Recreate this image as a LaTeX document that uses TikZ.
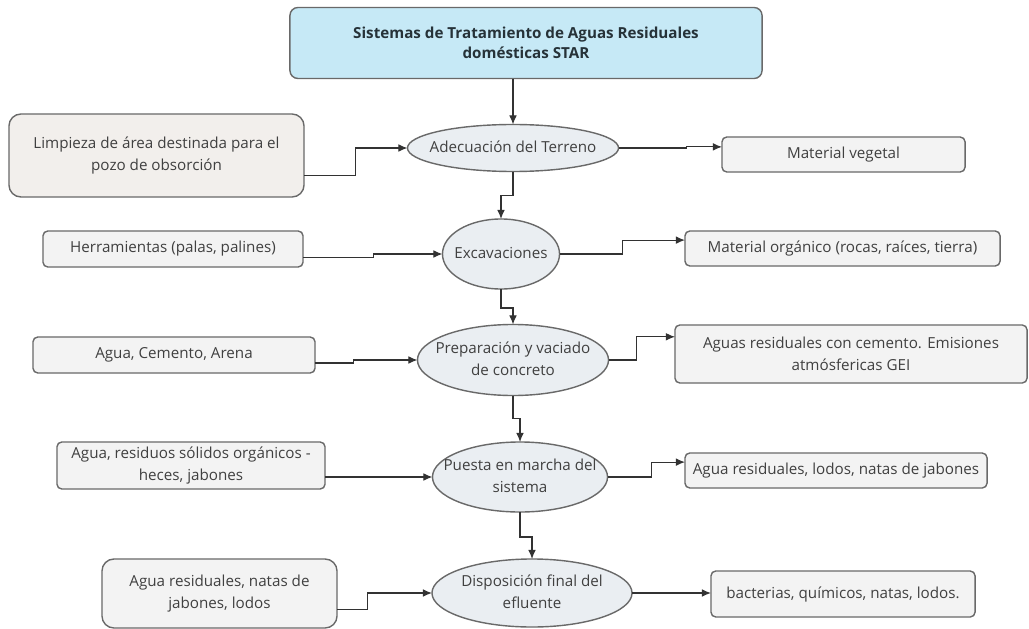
\documentclass[tikz,border=0pt]{standalone}
\usepackage{fontspec}
\setmainfont{Open Sans}
\usetikzlibrary{shapes.geometric,arrows.meta}
\definecolor{titlefill}{RGB}{198,233,246}
\definecolor{ovalfill}{RGB}{234,238,242}
\definecolor{boxfill}{RGB}{243,243,243}
\definecolor{warmfill}{RGB}{242,239,236}
\definecolor{edge}{RGB}{105,105,105}
\definecolor{ink}{RGB}{64,64,64}
\newcommand{\ovaltext}[1]{\makebox[0pt]{\begin{tabular}{@{}c@{}}#1\end{tabular}}}
\begin{document}
\begin{tikzpicture}[x=0.025cm,y=-0.025cm,
  font=\fontsize{10.8}{15.5}\selectfont, text=ink,
  every node/.style={inner sep=0pt,outer sep=0pt},
  titlebox/.style={draw=edge,line width=1pt,fill=titlefill,rounded corners=0.2cm,align=center,font=\fontsize{10.8}{14.5}\selectfont\bfseries,text={rgb,255:red,38;green,50;blue,56}},
  oval/.style={ellipse,draw=edge,line width=1pt,fill=ovalfill},
  inbox/.style={draw=edge,line width=1pt,fill=boxfill,rounded corners=0.12cm,align=center},
  outbox/.style={draw=edge,line width=1pt,fill=boxfill,rounded corners=0.12cm,align=center},
  arr/.style={-{Latex[length=6.5pt,width=5.5pt]},draw={rgb,255:red,50;green,50;blue,50},line width=0.75pt}]
  \useasboundingbox (0,0) rectangle (1029,629);
  % main column
  \node[titlebox,minimum width=11.8cm,minimum height=1.775cm] (title) at (526,43) {Sistemas de Tratamiento de Aguas Residuales\\dom\'esticas STAR};
  \node[oval,minimum width=5.275cm,minimum height=1.175cm] (adec) at (513,148) {\ovaltext{Adecuaci\'on del Terreno}};
  \node[oval,minimum width=2.925cm,minimum height=1.75cm] (exc) at (501,254) {\ovaltext{Excavaciones}};
  \node[oval,minimum width=4.775cm,minimum height=1.775cm] (prep) at (513,360) {\ovaltext{Preparaci\'on y vaciado\\de concreto}};
  \node[oval,minimum width=4.375cm,minimum height=1.75cm] (puesta) at (520,477) {\ovaltext{Puesta en marcha del\\sistema}};
  \node[oval,minimum width=5cm,minimum height=1.7cm] (disp) at (532,593) {\ovaltext{Disposici\'on final del\\efluente}};
  % inputs
  \node[inbox,fill=warmfill,rounded corners=0.3cm,minimum width=7.375cm,minimum height=2.075cm] (limp) at (156.5,155.5) {Limpieza de \'area destinada para el\\pozo de obsorci\'on};
  \node[inbox,minimum width=6.5cm,minimum height=0.9cm] (herr) at (173,249) {Herramientas (palas, palines)};
  \node[inbox,minimum width=7.05cm,minimum height=0.9cm] (agua) at (174,355) {Agua, Cemento, Arena};
  \node[inbox,minimum width=6.7cm,minimum height=1.175cm] (resid) at (191,465.5) {Agua, residuos s\'olidos org\'anicos -\\heces, jabones};
  \node[inbox,rounded corners=0.3cm,minimum width=5.875cm,minimum height=1.725cm] (natas) at (219.5,593.5) {Agua residuales, natas de\\jabones, lodos};
  % outputs
  \node[outbox,minimum width=6.075cm,minimum height=0.875cm] (veg) at (843.5,154.5) {Material vegetal};
  \node[outbox,minimum width=7.875cm,minimum height=0.875cm] (org) at (842.5,248.5) {Material org\'anico (rocas, ra\'ices, tierra)};
  \node[outbox,minimum width=8.8cm,minimum height=1.45cm] (aguares) at (851,354) {Aguas residuales con cemento. Emisiones\\atm\'osfericas GEI};
  \node[outbox,minimum width=7.55cm,minimum height=0.875cm] (lodos) at (836,470.5) {Agua residuales, lodos, natas de jabones};
  \node[outbox,minimum width=6.6cm,minimum height=1.15cm] (bact) at (843,594) {bacterias, qu\'imicos, natas, lodos.};
  % flow down
  \draw[arr] (title.south -| adec.north) -- (adec.north);
  \draw[arr] (adec.south) -- ++(0,24) -| (exc.north);
  \draw[arr] (exc.south) -- ++(0,19) -| (prep.north);
  \draw[arr] (prep.south) -- ++(0,23) -| (puesta.north);
  \draw[arr] (puesta.south) -- ++(0,25) -| (disp.north);
  % inputs in
  \draw[arr] ([yshift=-0.51cm]limp.east) -- ++(51,0) |- (adec.west);
  \draw[arr] ([yshift=-0.22cm]herr.east) -- ++(70,0) |- (exc.west);
  \draw[arr] ([yshift=-0.2cm]agua.east) -- ++(38,0) |- (prep.west);
  \draw[arr] (resid.east |- puesta.west) -- (puesta.west);
  \draw[arr] ([yshift=-0.41cm]natas.east) -- ++(30,0) |- (disp.west);
  % outputs out
  \draw[arr] (adec.east) -- ++(68,0) |- ([yshift=0.19cm]veg.west);
  \draw[arr] (exc.east) -- ++(63,0) |- ([yshift=0.21cm]org.west);
  \draw[arr] (prep.east) -- ++(28,0) |- ([yshift=0.43cm]aguares.west);
  \draw[arr] (puesta.east) -- ++(44,0) |- ([yshift=0.21cm]lodos.west);
  \draw[arr] (disp.east) -- (bact.west |- disp.east);
\end{tikzpicture}
\end{document}
